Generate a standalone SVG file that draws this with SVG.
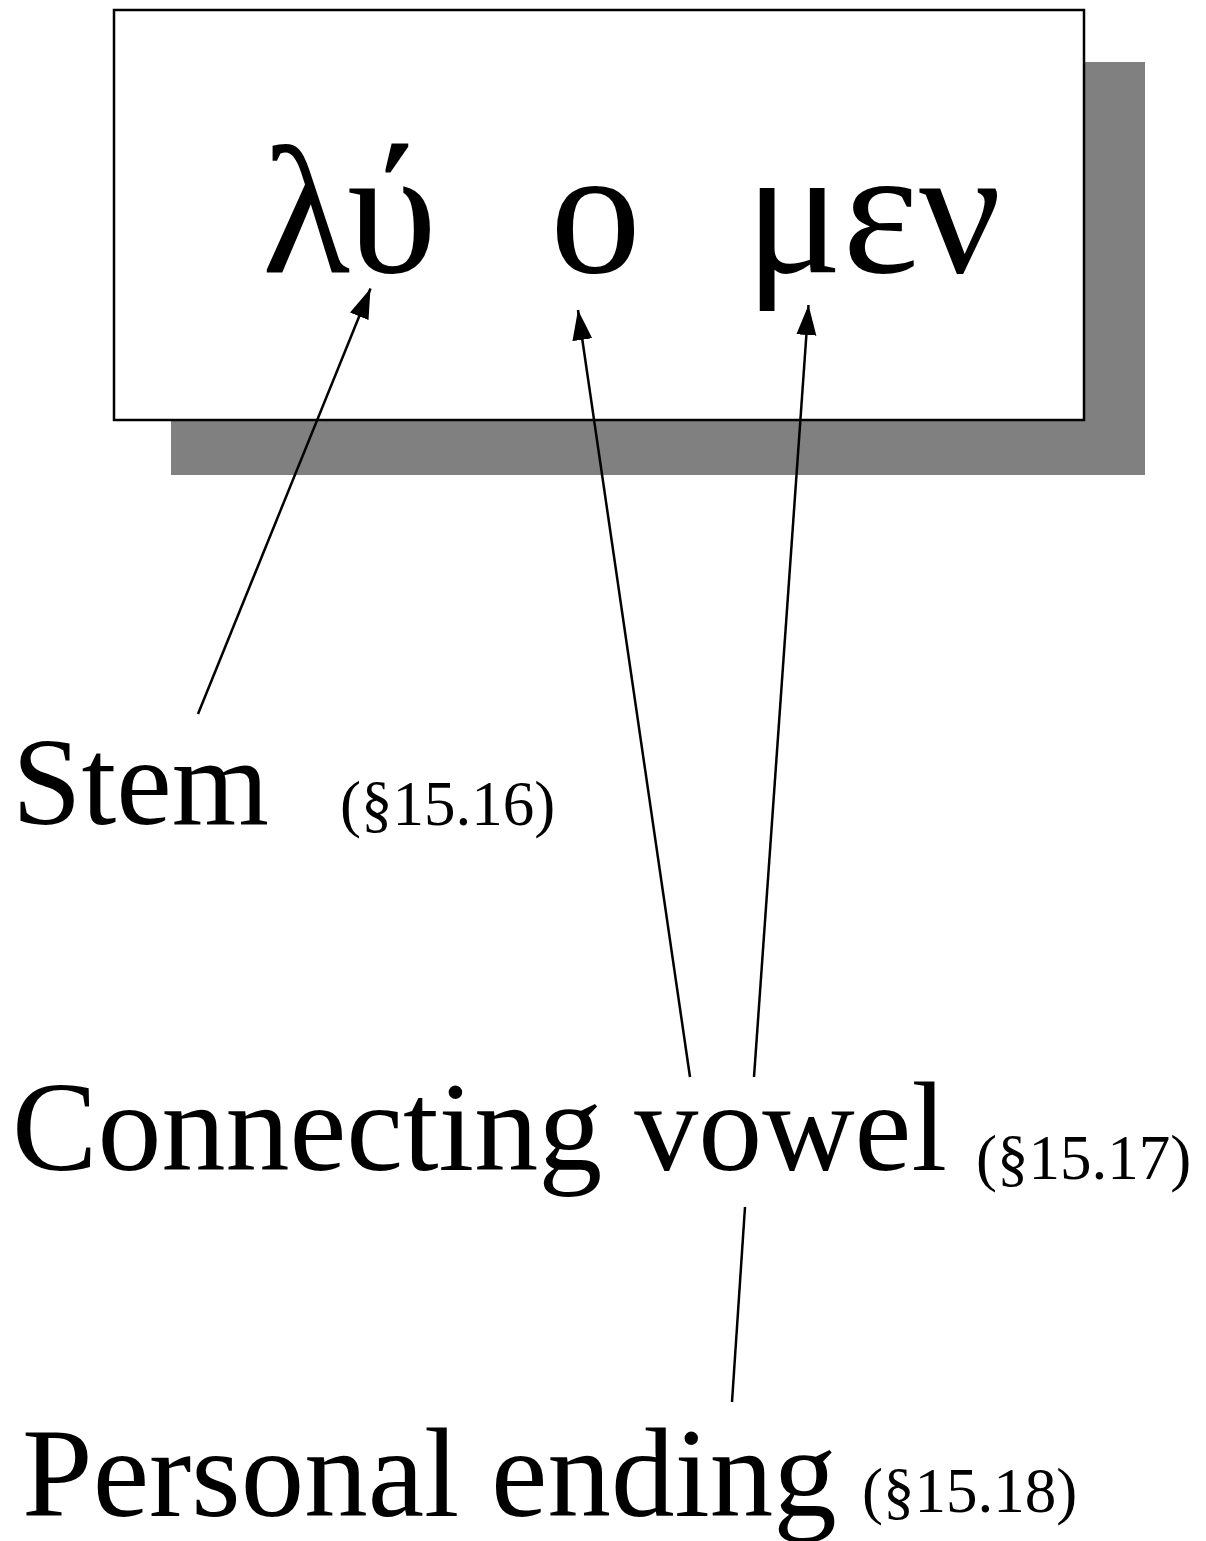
<svg xmlns="http://www.w3.org/2000/svg" width="1206" height="1541" viewBox="0 0 1206 1541">
<style>
text{font-family:"Liberation Serif","Times New Roman",serif;fill:#000}
.big{font-size:125px}
.small{font-size:63px}
.greek{font-size:182px}
.conn{stroke:#000;stroke-width:2.5;fill:none}
</style>
<defs>
<marker id="ah" markerUnits="userSpaceOnUse" markerWidth="32" markerHeight="22" refX="30" refY="10" orient="auto">
<path d="M0,0 L30,10 L0,20 Z" fill="#000"/>
</marker>
</defs>
<rect width="1206" height="1541" fill="#fff"/>
<g id="word">
<rect x="171" y="62" width="974" height="413" fill="#808080"/>
<rect x="114" y="10" width="970" height="410" fill="#fff" stroke="#000" stroke-width="2.5"/>
<text class="greek" x="262" y="272">λύ</text>
<text class="greek" x="550" y="272">ο</text>
<text class="greek" x="745" y="272">μεν</text>
</g>
<g id="stem">
<text class="big" x="12" y="824">Stem</text>
<text class="small" x="340" y="825">(§15.16)</text>
</g>
<g id="vowel">
<text class="big" x="12" y="1170" style="font-size:128px">Connecting vowel</text>
<text class="small" x="976" y="1179">(§15.17)</text>
</g>
<g id="ending">
<text class="big" x="22" y="1516" style="font-size:127px">Personal ending</text>
<text class="small" x="862" y="1512">(§15.18)</text>
</g>
<g id="connectors">
<line class="conn" x1="198" y1="714" x2="370.5" y2="288.5" marker-end="url(#ah)"/>
<line class="conn" x1="690" y1="1077" x2="578" y2="310" marker-end="url(#ah)"/>
<line class="conn" x1="754" y1="1077" x2="808.5" y2="305" marker-end="url(#ah)"/>
<line class="conn" x1="745" y1="1207" x2="732" y2="1402"/>
</g>
</svg>
